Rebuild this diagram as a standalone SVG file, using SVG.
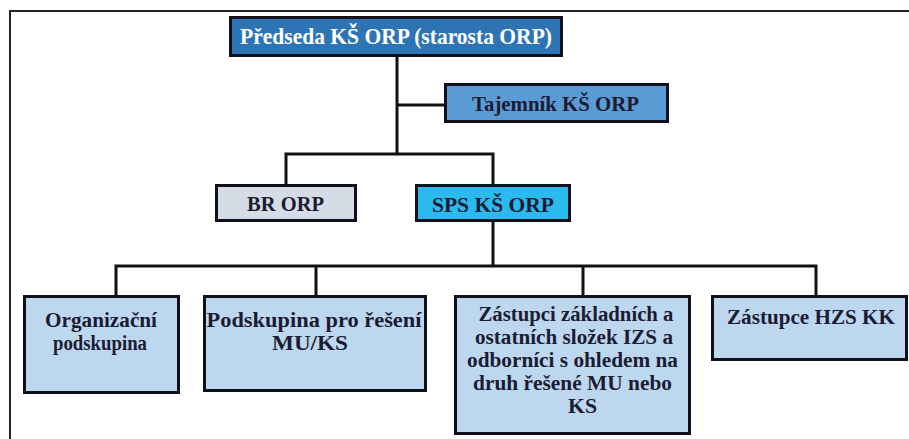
<svg xmlns="http://www.w3.org/2000/svg" width="909" height="439" viewBox="0 0 909 439">
<style>
.box{stroke:#10101c;stroke-width:3}
.t{font-family:Liberation Serif, DejaVu Serif, serif;font-weight:bold;font-size:22px;text-anchor:middle;fill:#1b1c33}
.s{font-size:20.5px}
.w{fill:#ffffff;font-size:23.5px}
.c{stroke:#111;stroke-width:3;fill:none}
</style>
<rect width="909" height="439" fill="#ffffff"/>
<path d="M10,439 V11 H909" fill="none" stroke="#222" stroke-width="2"/>
<g id="connectors">
<path class="c" d="M397,57 V154"/>
<path class="c" d="M397,105 H444" stroke-width="4"/>
<path class="c" d="M286,184 V154 H493 V184"/>
<path class="c" d="M493,222 V266"/>
<path class="c" d="M116,295 V266 H816 V295"/>
<path class="c" d="M316,266 V295"/>
<path class="c" d="M583,266 V295"/>
</g>
<g id="predseda">
<rect class="box" x="230.5" y="17.5" width="331" height="38" fill="#2e74b5"/>
<text class="t w" font-family="Liberation Serif" x="396" y="44" textLength="312" lengthAdjust="spacingAndGlyphs">Předseda KŠ ORP (starosta ORP)</text>
</g>
<g id="tajemnik">
<rect class="box" x="445.5" y="84.5" width="222" height="37" fill="#5b9bd5"/>
<text class="t" font-family="Liberation Serif" x="555.5" y="111" textLength="167" lengthAdjust="spacingAndGlyphs">Tajemník KŠ ORP</text>
</g>
<g id="br">
<rect class="box" x="216.5" y="185.5" width="139" height="35" fill="#d6dce5"/>
<text class="t" font-family="Liberation Serif" x="285.5" y="211" textLength="77" lengthAdjust="spacingAndGlyphs">BR ORP</text>
</g>
<g id="sps">
<rect class="box" x="416.5" y="185.5" width="153" height="35" fill="#2bbaf0"/>
<text class="t" font-family="Liberation Serif" x="493" y="212" textLength="122" lengthAdjust="spacingAndGlyphs">SPS KŠ ORP</text>
</g>
<g id="organizacni">
<rect class="box" x="24.5" y="296.5" width="154" height="96" fill="#bdd7ee"/>
<text class="t s" font-family="Liberation Serif" x="101" y="327" textLength="112" lengthAdjust="spacingAndGlyphs">Organizační</text>
<text class="t s" font-family="Liberation Serif" x="100" y="350" textLength="94" lengthAdjust="spacingAndGlyphs">podskupina</text>
</g>
<g id="podskupina">
<rect class="box" x="204.5" y="296.5" width="221" height="94" fill="#bdd7ee"/>
<text class="t s" font-family="Liberation Serif" x="314" y="327" textLength="215" lengthAdjust="spacingAndGlyphs">Podskupina pro řešení</text>
<text class="t s" font-family="Liberation Serif" x="310" y="350" textLength="76" lengthAdjust="spacingAndGlyphs">MU/KS</text>
</g>
<g id="zastupci">
<rect class="box" x="455.5" y="296.5" width="234" height="137" fill="#bdd7ee"/>
<text class="t s" font-family="Liberation Serif" x="576" y="321" textLength="195" lengthAdjust="spacingAndGlyphs">Zástupci základních a</text>
<text class="t s" font-family="Liberation Serif" x="574" y="344" textLength="198" lengthAdjust="spacingAndGlyphs">ostatních složek IZS a</text>
<text class="t s" font-family="Liberation Serif" x="572.5" y="367" textLength="211" lengthAdjust="spacingAndGlyphs">odborníci s ohledem na</text>
<text class="t s" font-family="Liberation Serif" x="572.5" y="390" textLength="199" lengthAdjust="spacingAndGlyphs">druh řešené MU nebo</text>
<text class="t s" font-family="Liberation Serif" x="582.5" y="413" textLength="29" lengthAdjust="spacingAndGlyphs">KS</text>
</g>
<g id="hzs">
<rect class="box" x="712.5" y="296.5" width="194" height="63" fill="#bdd7ee"/>
<text class="t" font-family="Liberation Serif" x="811" y="324" textLength="168" lengthAdjust="spacingAndGlyphs">Zástupce HZS KK</text>
</g>
</svg>
